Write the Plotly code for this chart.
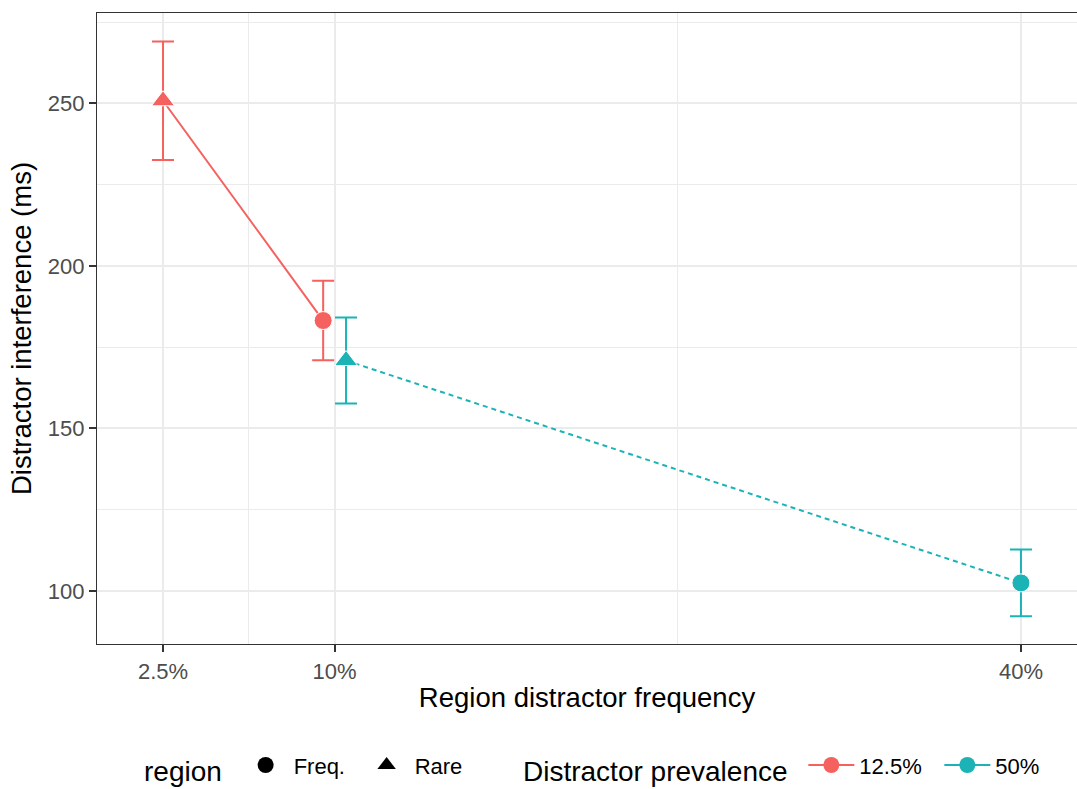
import plotly.graph_objects as go

# Interference by region distractor frequency, split by overall distractor prevalence
frequency = [2.5, 10, 10, 40]                      # region distractor frequency (%)
prevalence = ["12.5%", "12.5%", "50%", "50%"]      # distractor prevalence group
region = ["Rare", "Freq.", "Rare", "Freq."]        # region type
mean_ms = [250.8, 183.2, 170.9, 102.5]             # mean interference (ms)
err_ms = [18.2, 12.2, 13.2, 10.3]                  # error bar half-length (ms)

prevalence_levels = ["12.5%", "50%"]
region_levels = ["Freq.", "Rare"]
colors = {"12.5%": "#F5615E", "50%": "#1BB3B6"}
dashes = {"12.5%": "solid", "50%": "5px,4px"}
symbols = {"Freq.": "circle", "Rare": "triangle-up"}
sizes = {"Freq.": 18, "Rare": 20}

x_ticks = [2.5, 10, 40]
x_labels = ["2.5%", "10%", "40%"]
y_ticks = [100, 150, 200, 250]

DODGE = 0.5
FONT = "Liberation Sans, Arial, sans-serif"

# dodge points that share the same frequency
x_pos = []
for i, f in enumerate(frequency):
    n_same = frequency.count(f)
    if n_same > 1:
        k = [j for j, g in enumerate(frequency) if g == f].index(i)
        x_pos.append(f + (k - (n_same - 1) / 2) * 2 * DODGE)
    else:
        x_pos.append(f)

fig = go.Figure()

for p in prevalence_levels:
    idx = [i for i, v in enumerate(prevalence) if v == p]
    fig.add_trace(go.Scatter(
        x=[x_pos[i] for i in idx],
        y=[mean_ms[i] for i in idx],
        mode="lines",
        line=dict(color=colors[p], width=2, dash=dashes[p]),
        showlegend=False, hoverinfo="skip",
    ))
    fig.add_trace(go.Scatter(
        x=[x_pos[i] for i in idx],
        y=[mean_ms[i] for i in idx],
        mode="markers",
        marker=dict(color=colors[p], opacity=1,
                    symbol=[symbols[region[i]] for i in idx],
                    size=[sizes[region[i]] for i in idx]),
        error_y=dict(type="data", array=[err_ms[i] for i in idx],
                     color=colors[p], thickness=2, width=11),
        showlegend=False,
    ))

# legend: region (shape)
for r in region_levels:
    fig.add_trace(go.Scatter(
        x=[None], y=[None], mode="markers", name=r,
        marker=dict(color="black", symbol=symbols[r], size=sizes[r], opacity=1),
        legend="legend",
    ))
# legend: distractor prevalence (colour)
for p in prevalence_levels:
    fig.add_trace(go.Scatter(
        x=[None], y=[None], mode="lines+markers", name=p,
        line=dict(color=colors[p], width=2),
        marker=dict(color=colors[p], symbol="circle", size=18, opacity=1),
        legend="legend2",
    ))

axis_common = dict(
    showline=True, linecolor="#333333", linewidth=1.2,
    ticks="outside", ticklen=7, tickwidth=1.5, tickcolor="#333333",
    tickfont=dict(family=FONT, size=22, color="#4D4D4D"),
    showgrid=True, gridcolor="#EBEBEB", gridwidth=1.8,
    zeroline=False,
)

fig.update_xaxes(
    **axis_common,
    range=[-0.386, 42.45],
    tickvals=x_ticks, ticktext=x_labels,
    mirror=True,
    minor=dict(tickvals=[6.25, 25], showgrid=True, gridcolor="#EBEBEB",
               gridwidth=1, ticks=""),
    title=dict(text="Region distractor frequency",
               font=dict(family=FONT, size=27.5, color="black"), standoff=5),
)
fig.update_yaxes(
    **axis_common,
    range=[83.7, 277.8],
    tickvals=y_ticks,
    minor=dict(tickvals=[125, 175, 225, 275], showgrid=True,
               gridcolor="#EBEBEB", gridwidth=1, ticks=""),
    title=dict(text="Distractor interference (ms)",
               font=dict(family=FONT, size=27.5, color="black"), standoff=8),
)

legend_common = dict(
    orientation="h", yref="container", yanchor="middle", y=0.027,
    xref="container", xanchor="left",
    font=dict(family=FONT, size=22, color="black"),
    bgcolor="rgba(0,0,0,0)", itemsizing="trace", itemwidth=46,
)
fig.update_layout(
    width=1077, height=789,
    margin=dict(l=97, r=0, t=13, b=145),
    plot_bgcolor="white", paper_bgcolor="white",
    legend=dict(**legend_common, x=142 / 1077, entrywidth=60,
                title=dict(text="region\u00a0", side="left",
                           font=dict(family=FONT, size=28, color="black"))),
    legend2=dict(**legend_common, x=521 / 1077, entrywidth=75,
                 title=dict(text="Distractor prevalence\u00a0", side="left",
                            font=dict(family=FONT, size=28, color="black"))),
)

fig.write_html("out.html")
